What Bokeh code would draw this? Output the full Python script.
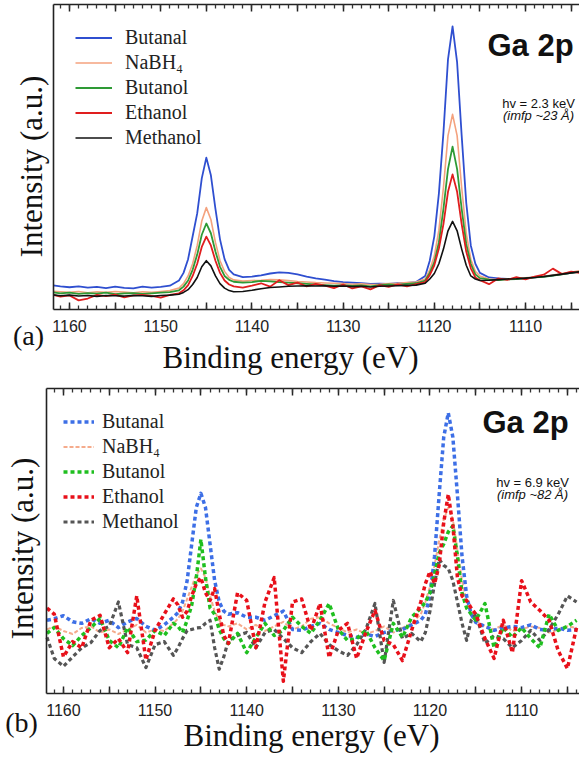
import math
from bokeh.plotting import figure
from bokeh.models import Range1d, FixedTicker, Label, Legend, LegendItem, LinearAxis
from bokeh.layouts import column
from bokeh.embed import file_html
from bokeh.resources import INLINE

SERIF = "Liberation Serif"
SANS = "Liberation Sans"

# ---------------- data ----------------
energy = [1161.8, 1161, 1160, 1159, 1158, 1157, 1156, 1155, 1154, 1153, 1152, 1151, 1150, 1149, 1148,
          1147.5, 1147, 1146.5, 1146, 1145.5, 1145, 1144.5, 1144, 1143.5, 1143, 1142.5,
          1142, 1141, 1140, 1139, 1138, 1137, 1136, 1135, 1134, 1133, 1132, 1131, 1130, 1129,
          1128, 1127, 1126, 1125, 1124, 1123, 1122, 1121,
          1120.5, 1120, 1119.5, 1119, 1118.5, 1118, 1117.5, 1117, 1116.5, 1116, 1115.5,
          1115, 1114, 1113, 1112, 1111, 1110, 1109, 1108, 1107, 1106, 1105, 1104]

series_names = ["Butanal", "NaBH\u2084", "Butanol", "Ethanol", "Methanol"]

# panel (a): hv = 2.3 keV
butanal_a = [7.9, 7.6, 7.3, 7.6, 7.2, 7.4, 7.0, 7.5, 7.1, 6.9, 7.5, 7.2, 7.4, 7.8, 9.5,
             12, 16.5, 24, 31.5, 43, 49.8, 44, 33, 23, 16.5, 13,
             11.5, 10.6, 10.8, 11.2, 11.8, 12.2, 12.0, 11.5, 10.8, 10.2, 9.8, 9.3, 9.0, 8.8, 8.6, 8.4, 8.5, 8.4, 8.6, 8.7, 9.0, 11.0,
             16, 24, 38, 58, 82, 92.8, 81, 57, 35, 21, 15,
             12, 10.5, 10.2, 10.0, 10.1, 10.3, 10.5, 10.8, 11.2, 11.6, 12.0, 12.5]
nabh4_a = [6.0, 5.8, 5.6, 5.9, 5.5, 5.8, 5.6, 5.9, 5.7, 5.5, 5.8, 5.6, 5.9, 6.2, 7.0,
           8.5, 11, 15, 21, 29, 33.4, 29.5, 22, 16, 12.5, 10.5,
           9.7, 9.3, 9.5, 9.6, 9.8, 9.7, 9.5, 9.2, 9.0, 8.8, 8.7, 8.6, 8.5, 8.3, 8.4, 8.2, 8.3, 8.5, 8.6, 8.8, 9.0, 10.0,
           13, 17.5, 26, 40, 57, 64, 57, 40, 25, 16.5, 12.5,
           11, 10.0, 9.8, 10.0, 10.2, 10.4, 10.6, 10.9, 11.3, 11.8, 12.2, 12.8]
butanol_a = [5.6, 5.3, 5.5, 5.1, 5.4, 5.2, 5.5, 5.0, 5.3, 5.4, 5.1, 5.3, 5.5, 5.7, 6.3,
             7.5, 9.5, 13, 18, 24.5, 28.2, 25, 19, 14, 11, 9.7,
             9.1, 8.8, 9.0, 9.4, 9.2, 9.0, 8.8, 8.6, 8.4, 8.2, 8.0, 7.8, 8.0, 7.7, 7.9, 7.6, 8.0, 8.2, 8.1, 8.4, 8.6, 9.5,
             12, 15.5, 22, 33, 46, 53.4, 46, 33, 21.5, 15, 11.5,
             10.3, 9.8, 9.6, 9.9, 10.0, 10.2, 10.5, 10.7, 11.1, 11.5, 12.0, 12.4]
ethanol_a = [4.8, 4.2, 4.6, 3.0, 3.6, 4.8, 4.4, 4.9, 4.0, 4.6, 4.8, 4.5, 3.9, 4.8, 5.3,
             6.3, 8, 11, 15, 20.5, 23.9, 21, 16, 12, 9.5, 8.2,
             7.6, 7.2, 7.8, 8.6, 7.5, 9.6, 8.0, 8.8, 7.6, 8.4, 7.8, 7.0, 8.2, 6.9, 7.6, 6.6, 8.0, 7.4, 8.2, 7.6, 8.3, 9.0,
             11.3, 14.5, 20, 28, 38.6, 44.3, 38.6, 28, 19, 13.5, 10.5,
             9.6, 8.3, 10.2, 9.7, 10.6, 9.9, 10.8, 11.4, 13.4, 11.6, 12.4, 12.0]
methanol_a = [4.8, 4.5, 4.7, 4.4, 4.6, 4.3, 4.6, 4.5, 4.4, 4.6, 4.5, 4.3, 4.6, 4.7, 5.0,
              5.6, 6.5, 8.2, 10.5, 14, 16, 14.3, 11, 8.5, 7, 6.2,
              5.8, 5.9, 6.3, 6.8, 7.2, 7.4, 7.6, 7.7, 7.8, 7.7, 7.8, 7.6, 7.7, 7.5, 7.6, 7.4, 7.6, 7.7, 7.8, 7.9, 8.0, 8.6,
              10, 11.8, 15, 19.8, 25.8, 28.9, 25.8, 19.8, 14.5, 11, 10,
              9.5, 9.6, 9.8, 10.0, 10.1, 10.3, 10.5, 10.8, 11.2, 11.6, 12.0, 12.4]

# panel (b): hv = 6.9 keV
butanal_b = [24, 24.5, 25.5, 23.5, 23, 24.5, 23, 24, 21.6, 23.5, 24.6, 22, 20.7, 22.5, 25,
             26.5, 30, 37, 49, 61, 65.6, 61, 49, 37, 30, 27,
             26, 26.5, 25, 25, 24, 25.5, 27, 21, 20.7, 22, 23, 21, 20, 19, 18.4, 19.5, 18.7, 20, 20.7, 21, 22.5, 24,
             26, 32, 45, 65, 84, 92, 84, 65, 45, 32, 26,
             23.3, 22, 20.7, 21.5, 22, 21.6, 22.5, 21, 20.7, 21.5, 20.7, 21]
nabh4_b = [21, 22, 20.5, 19.5, 21.5, 22, 20, 21, 19.5, 21, 22.5, 20, 21, 20.5, 23,
           24.5, 27, 31, 35, 39, 41, 38, 32, 27, 24, 22.5,
           22, 23, 21, 22.5, 20.5, 22, 23.5, 21, 22, 24.5, 25, 23, 21.5, 20, 21, 19.5, 20.5, 22, 20, 21.5, 23, 26,
           30, 35, 42, 50, 57, 61, 57, 47, 37, 30, 26,
           24, 22, 21, 22.5, 20.5, 21, 22, 21.5, 20, 21, 22, 21.5]
butanol_b = [19.7, 21.6, 18, 15.7, 19, 21.6, 24.6, 17.4, 15, 21.6, 17, 17.5, 20.7, 19, 23,
             22, 20, 24, 29, 38, 50.5, 38, 28, 26, 21, 18,
             16.4, 19.7, 13.4, 18.4, 23, 19, 20.7, 25, 22, 19.7, 24, 29.5, 21, 17.4, 18, 20.7, 15, 10.8, 23, 18.4, 25, 28,
             30, 33, 39, 46, 49, 53, 55, 45, 33, 28, 26,
             24, 29.5, 15, 21.6, 18.4, 21.6, 18, 15, 26, 20.7, 22, 24]
ethanol_b = [28, 26, 12, 17, 15, 24, 25.6, 15, 18, 13.4, 32, 11, 20.7, 26, 31,
             29, 25, 27, 32, 36, 38, 33, 30.5, 34.4, 26, 19,
             16.4, 33, 30.5, 15, 30, 38, 4, 30, 31, 20.7, 29.5, 11.8, 20.7, 23, 11.5, 20, 27.2, 17.4, 16, 10.8, 20.7, 30,
             36, 40, 36, 42, 56, 65.3, 55, 38, 32, 30.5, 28,
             26, 18, 11.5, 24, 13.4, 37, 30, 27.2, 24, 14, 8.2, 21.6]
methanol_b = [18.4, 11.5, 8.9, 12, 15, 16.7, 20.7, 22, 30, 16, 15, 8.5, 16, 17, 12.5,
              15, 18, 20.7, 21, 21.5, 21.6, 23, 24, 15, 8, 12,
              17.4, 19, 20, 15, 20, 21, 18, 15, 13.4, 17, 19.7, 16, 14, 12.5, 16, 21, 29.5, 10.2, 30.5, 18, 19.7, 17,
              20, 27, 36, 44, 42, 41, 37, 30, 23, 17.4, 24,
              26, 16.4, 19, 18, 15, 17.4, 20.7, 17.4, 21, 26, 32, 30]

major_ticks = [1105, 1110, 1115, 1120, 1125, 1130, 1135, 1140, 1145, 1150, 1155, 1160]
tick_labels = {1105: "", 1110: "1110", 1115: "", 1120: "1120", 1125: "", 1130: "1130",
               1135: "", 1140: "1140", 1145: "", 1150: "1150", 1155: "", 1160: "1160"}
minor_ticks = list(range(1104, 1162))


def style_axis(ax, labels):
    ax.axis_line_color = "#222222"
    ax.axis_line_width = 1.6
    ax.major_tick_line_color = "#222222"
    ax.minor_tick_line_color = "#333333"
    ax.major_tick_line_width = 1.5
    ax.minor_tick_line_width = 1.3
    ax.major_tick_in = 7
    ax.major_tick_out = 0
    ax.minor_tick_in = 4
    ax.minor_tick_out = 0
    if labels:
        ax.major_label_text_font = SANS
        ax.major_label_text_font_size = "16px"
        ax.major_label_text_color = "#222222"
        ax.major_label_standoff = 11
        ax.major_label_overrides = tick_labels
    else:
        ax.major_label_text_font_size = "0px"
        ax.major_label_standoff = 0


def make_panel(xr, yr, x_bounds, data, styles, tag, hv, imfp, pos):
    p = figure(width=579, height=380, x_range=Range1d(*xr), y_range=Range1d(*yr),
               output_backend="svg", toolbar_location=None,
               x_axis_location=None, y_axis_location=None,
               min_border_left=0, min_border_right=0, min_border_top=0,
               min_border_bottom=0)
    p.outline_line_color = None
    p.xgrid.visible = False
    p.ygrid.visible = False
    p.background_fill_color = "white"
    p.border_fill_color = "white"

    ticker = FixedTicker(ticks=major_ticks, minor_ticks=minor_ticks)
    ax_b = LinearAxis(ticker=ticker, fixed_location=0, bounds=x_bounds)
    style_axis(ax_b, True)
    p.add_layout(ax_b, "below")
    ax_t = LinearAxis(ticker=ticker, fixed_location=100, bounds=x_bounds)
    style_axis(ax_t, False)
    p.add_layout(ax_t, "above")
    ax_l = LinearAxis(ticker=FixedTicker(ticks=[]), fixed_location=x_bounds[1], bounds=(0, 100))
    style_axis(ax_l, False)
    p.add_layout(ax_l, "left")

    renderers = {}
    for idx in styles["order"]:
        st = styles["lines"][idx]
        renderers[idx] = p.line(energy, data[idx], line_color=st[0], line_width=st[1],
                                line_dash=st[2], line_join="round")
    items = [LegendItem(label=series_names[i], renderers=[renderers[i]]) for i in range(5)]
    leg = Legend(items=items, location=styles["legend_loc"], glyph_width=styles["gw"],
                 glyph_height=21, label_height=21, spacing=2, padding=0, margin=0,
                 label_standoff=styles["gs"], label_text_font=SERIF,
                 label_text_font_size="20px", label_text_color="#222222",
                 background_fill_alpha=0, border_line_color=None)
    p.add_layout(leg)

    def lab(x, y, text, font, size, align="center", baseline="middle", angle=0, style="normal"):
        p.add_layout(Label(x=x, y=y, x_units="screen", y_units="screen", text=text,
                           text_font=font, text_font_size=size, text_align=align,
                           text_baseline=baseline, angle=angle, text_color="#111111",
                           text_font_style=style))

    lab(pos["xl"][0], pos["xl"][1], "Binding energy (eV)", SERIF, "31px")
    lab(pos["tag"][0], pos["tag"][1], tag, SERIF, "28px")
    lab(pos["yl"][0], pos["yl"][1], "Intensity (a.u.)", SERIF, "31px", angle=math.pi / 2)
    lab(pos["ga"][0], pos["ga"][1], "Ga 2p", SANS, "31px", align="left",
        baseline="alphabetic", style="bold")
    lab(pos["hv"][0], pos["hv"][1], hv, SANS, "13px", baseline="alphabetic")
    lab(pos["hv"][0], pos["hv"][1] - 12, imfp, SANS, "13px", baseline="alphabetic", style="italic")
    return p


styles_a = {
    "order": [0, 1, 2, 3, 4],
    "lines": [("#2f4fd0", 1.8, "solid"), ("#f4a27e", 1.6, "solid"), ("#2e9a35", 1.8, "solid"),
              ("#e01e1e", 1.8, "solid"), ("#111111", 1.6, "solid")],
    "legend_loc": (75, 231), "gw": 37, "gs": 13,
}
styles_b = {
    "order": [1, 0, 4, 2, 3],
    "lines": [("#3d6fe6", 3.5, "4 3"), ("#f5ab8c", 2.0, "4 2"), ("#1fbf1f", 3.5, "4 3"),
              ("#e8101a", 3.5, "4 3"), ("#555555", 3.2, "4 3")],
    "legend_loc": (63, 227), "gw": 31, "gs": 8,
}

pa = make_panel((1167.57, 1104.08), (-23.28, 101.31), (1104.08, 1161.75),
                [butanal_a, nabh4_a, butanol_a, ethanol_a, methanol_a], styles_a,
                "(a)", "hv = 2.3 keV", "(imfp ~23 \u00c5)",
                {"xl": (290, 23), "tag": (28, 45), "yl": (31, 214),
                 "ga": (487, 335), "hv": (538, 277)})
pb = make_panel((1166.87, 1103.68), (-21.97, 102.62), (1103.68, 1161.86),
                [butanal_b, nabh4_b, butanol_b, ethanol_b, methanol_b], styles_b,
                "(b)", "hv = 6.9 keV", "(imfp ~82 \u00c5)",
                {"xl": (311, 25), "tag": (21, 38), "yl": (22, 212),
                 "ga": (482, 338), "hv": (532, 278)})

layout = column(pa, pb, spacing=0)
open("out.html", "w").write(file_html(layout, INLINE))
